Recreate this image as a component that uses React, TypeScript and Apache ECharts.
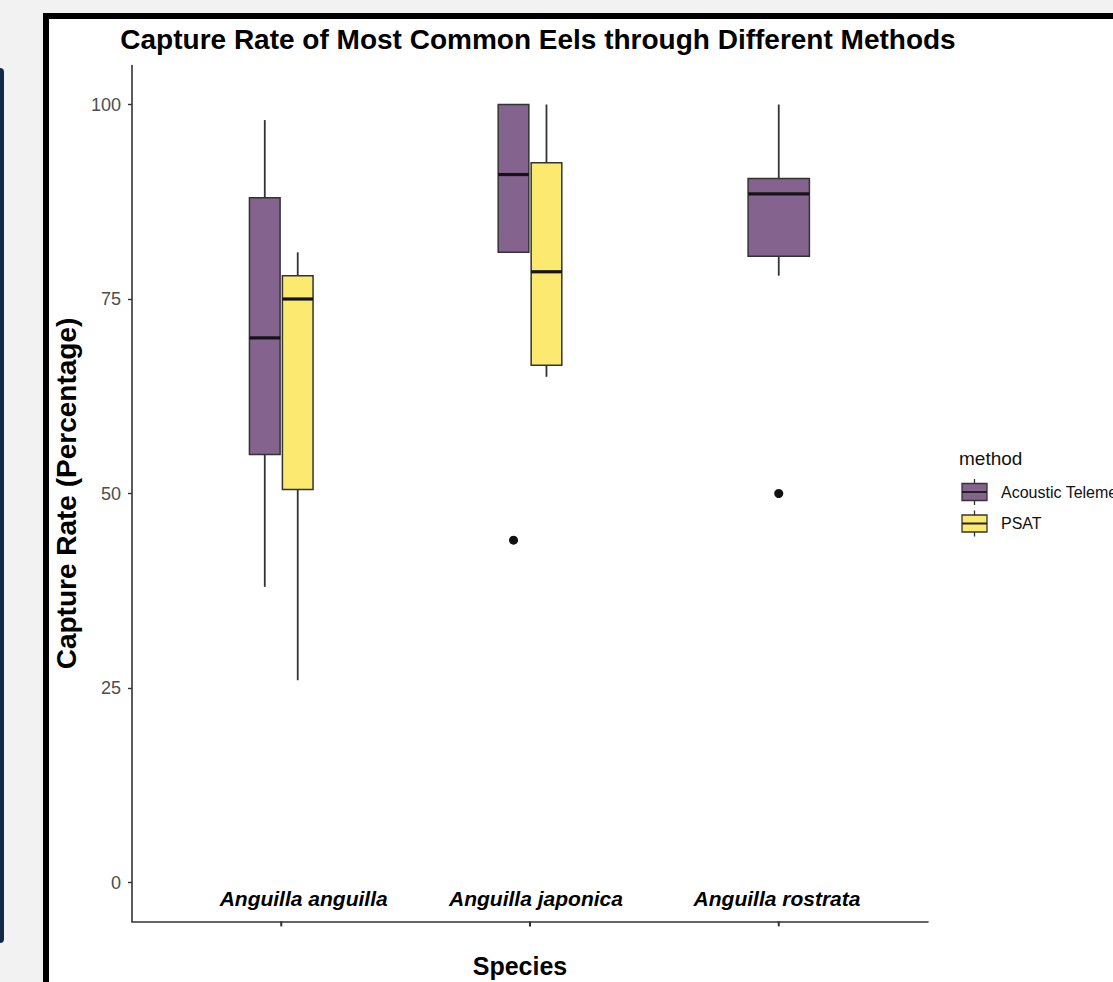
import React, { useEffect, useRef } from "react";
import * as echarts from "echarts";

// ---------- data ----------
const SPECIES = ["Anguilla anguilla", "Anguilla japonica", "Anguilla rostrata"];
const METHODS = ["Acoustic Telemetry", "PSAT"];
// [min, q1, median, q3, max] per species (null = no data)
const ACOUSTIC_BOX: (number[] | null)[] = [
  [38, 55, 70, 88, 98],
  [81, 81, 91, 100, 100],
  [78, 80.5, 88.5, 90.5, 100],
];
const PSAT_BOX: (number[] | null)[] = [
  [26, 50.5, 75, 78, 81],
  [65, 66.5, 78.5, 92.5, 100],
  null,
];
// outliers: [speciesIndex, value]
const ACOUSTIC_OUTLIERS: number[][] = [
  [1, 44],
  [2, 50],
];
const PSAT_OUTLIERS: number[][] = [];
const Y_TICKS = [0, 25, 50, 75, 100];
const X_TICKS = [1, 2, 3];

// ---------- styling ----------
const FONT = "'Liberation Sans', Arial, Helvetica, sans-serif";
const COLORS = ["#85638f", "#fce96f"];
const DODGE_WIDTH = 0.265;
const DODGE_PAD = 0.07;
const LABEL_NUDGE = [0.09, 0.024, -0.007];
const Y_MIN = -5;
const Y_MAX = 105;

const BOXES = [ACOUSTIC_BOX, PSAT_BOX];
const OUTLIERS = [ACOUSTIC_OUTLIERS, PSAT_OUTLIERS];

function present(si: number) {
  return METHODS.map((_, mi) => mi).filter((mi) => BOXES[mi][si]);
}
function boxCenter(si: number, mi: number) {
  const p = present(si);
  const n = p.length;
  const k = p.indexOf(mi);
  const slot = DODGE_WIDTH / n;
  return si + 1 - DODGE_WIDTH / 2 + slot * (k + 0.5);
}
function boxWidth(si: number) {
  return (DODGE_WIDTH / present(si).length) * (1 - DODGE_PAD);
}

export default function App() {
  const ref = useRef<HTMLDivElement>(null);

  useEffect(() => {
    if (!ref.current) return;
    const chart = echarts.init(ref.current, null, { renderer: "svg" });

    const boxSeries = METHODS.map((name, mi) => ({
      type: "custom",
      name,
      data: BOXES[mi]
        .map((b, si) => (b ? [boxCenter(si, mi), ...b, si] : null))
        .filter((d) => d),
      encode: { x: 0, y: [1, 2, 3, 4, 5] },
      z: 3,
      renderItem: (params: any, api: any) => {
        const cx = api.value(0);
        const si = api.value(6);
        const w = api.size([boxWidth(si), 0])[0];
        const pMin = api.coord([cx, api.value(1)]);
        const pQ1 = api.coord([cx, api.value(2)]);
        const pMed = api.coord([cx, api.value(3)]);
        const pQ3 = api.coord([cx, api.value(4)]);
        const pMax = api.coord([cx, api.value(5)]);
        const x = pMed[0];
        const wStyle = { stroke: "#333", lineWidth: 1.8 };
        return {
          type: "group",
          children: [
            { type: "line", shape: { x1: x, y1: pMax[1], x2: x, y2: pQ3[1] }, style: wStyle },
            { type: "line", shape: { x1: x, y1: pQ1[1], x2: x, y2: pMin[1] }, style: wStyle },
            {
              type: "rect",
              shape: { x: x - w / 2, y: pQ3[1], width: w, height: pQ1[1] - pQ3[1] },
              style: { fill: COLORS[mi], stroke: "#333", lineWidth: 1.5 },
            },
            {
              type: "line",
              shape: { x1: x - w / 2, y1: pMed[1], x2: x + w / 2, y2: pMed[1] },
              style: { stroke: "#141414", lineWidth: 3.2 },
            },
          ],
        };
      },
    }));

    const outlierData: number[][] = [];
    OUTLIERS.forEach((list, mi) =>
      list.forEach(([si, v]) => outlierData.push([boxCenter(si, mi), v]))
    );

    const labelData = SPECIES.map((s, i) => ({
      value: [i + 1 + LABEL_NUDGE[i], 0],
      name: s,
    }));

    const legendChildren: any[] = [
      {
        type: "text",
        x: 959,
        y: 458,
        style: { text: "method", font: `19px ${FONT}`, fill: "#111", textVerticalAlign: "middle" },
      },
    ];
    METHODS.forEach((m, mi) => {
      const cy = 492 + mi * 31.5;
      legendChildren.push(
        { type: "line", shape: { x1: 974.5, y1: cy - 13, x2: 974.5, y2: cy + 13 }, style: { stroke: "#333", lineWidth: 1.3 } },
        { type: "rect", shape: { x: 962, y: cy - 8.5, width: 25, height: 17 }, style: { fill: COLORS[mi], stroke: "#333", lineWidth: 1.3 } },
        { type: "line", shape: { x1: 962, y1: cy, x2: 987, y2: cy }, style: { stroke: "#222", lineWidth: 2 } },
        {
          type: "text",
          x: 1001,
          y: cy,
          style: { text: m, font: `16px ${FONT}`, fill: "#111", textVerticalAlign: "middle" },
        }
      );
    });

    chart.setOption({
      animation: false,
      backgroundColor: "transparent",
      textStyle: { fontFamily: FONT },
      title: {
        text: "Capture Rate of Most Common Eels through Different Methods",
        left: 538,
        top: 25,
        textAlign: "center",
        padding: 0,
        textStyle: { fontSize: 28, fontWeight: "bold", color: "#000", fontFamily: FONT },
      },
      grid: { left: 132, right: 185, top: 65.6, bottom: 60.6, containLabel: false, outerBoundsMode: "none" },
      xAxis: {
        type: "value",
        min: 0.4,
        max: 3.6,
        axisLine: { show: true, onZero: false, lineStyle: { color: "#333", width: 1.6 } },
        axisTick: { show: false },
        axisLabel: { show: false },
        splitLine: { show: false },
        name: "Species",
        nameLocation: "middle",
        nameGap: 32,
        nameTextStyle: { fontSize: 25, fontWeight: "bold", color: "#000", fontFamily: FONT, padding: [0, 20, 0, 0] },
      },
      yAxis: {
        type: "value",
        min: Y_MIN,
        max: Y_MAX,
        axisLine: { show: true, onZero: false, lineStyle: { color: "#333", width: 1.6 } },
        axisTick: { show: true, length: 4, customValues: Y_TICKS, lineStyle: { color: "#333", width: 1.4 } },
        axisLabel: { customValues: Y_TICKS, color: "#4d4d4d", fontSize: 18, margin: 11, fontFamily: FONT },
        splitLine: { show: false },
        name: "Capture Rate (Percentage)",
        nameLocation: "middle",
        nameRotate: 90,
        nameGap: 48,
        nameTextStyle: { fontSize: 28, fontWeight: "bold", color: "#000", fontFamily: FONT },
      },
      series: [
        ...boxSeries,
        {
          type: "custom",
          name: "x ticks",
          data: X_TICKS.map((t) => [t, Y_MIN]),
          encode: { x: 0, y: 1 },
          clip: false,
          silent: true,
          z: 6,
          renderItem: (params: any, api: any) => {
            const p = api.coord([api.value(0), api.value(1)]);
            return {
              type: "rect",
              shape: { x: p[0] - 1, y: p[1], width: 2, height: 5 },
              style: { fill: "#333" },
            };
          },
        },
        {
          type: "scatter",
          name: "outliers",
          data: outlierData,
          symbolSize: 9,
          itemStyle: { color: "#111", opacity: 1 },
          z: 4,
        },
        {
          type: "scatter",
          name: "species labels",
          data: labelData,
          symbolSize: 1,
          itemStyle: { color: "transparent" },
          label: {
            show: true,
            position: "inside",
            offset: [0, 16],
            formatter: (p: any) => p.name,
            fontSize: 21,
            fontWeight: "bold",
            fontStyle: "italic",
            color: "#000",
            opacity: 1,
            textBorderWidth: 0,
            fontFamily: FONT,
          },
          z: 5,
        },
      ],
      graphic: legendChildren,
    });

    return () => chart.dispose();
  }, []);

  return (
    <div
      style={{
        position: "fixed",
        left: 0,
        top: 0,
        width: 1113,
        height: 982,
        background: "#f2f2f2",
        overflow: "hidden",
      }}
    >
      <div
        style={{
          position: "absolute",
          left: 0,
          top: 68,
          width: 4,
          height: 875,
          background: "#12294a",
          borderRadius: "0 4px 4px 0",
        }}
      />
      <div
        style={{
          position: "absolute",
          left: 43,
          top: 13,
          width: 1200,
          height: 1200,
          background: "#fff",
          border: "6px solid #000",
          boxSizing: "border-box",
        }}
      />
      <div ref={ref} style={{ position: "absolute", left: 0, top: 0, width: 1113, height: 982 }} />
    </div>
  );
}
